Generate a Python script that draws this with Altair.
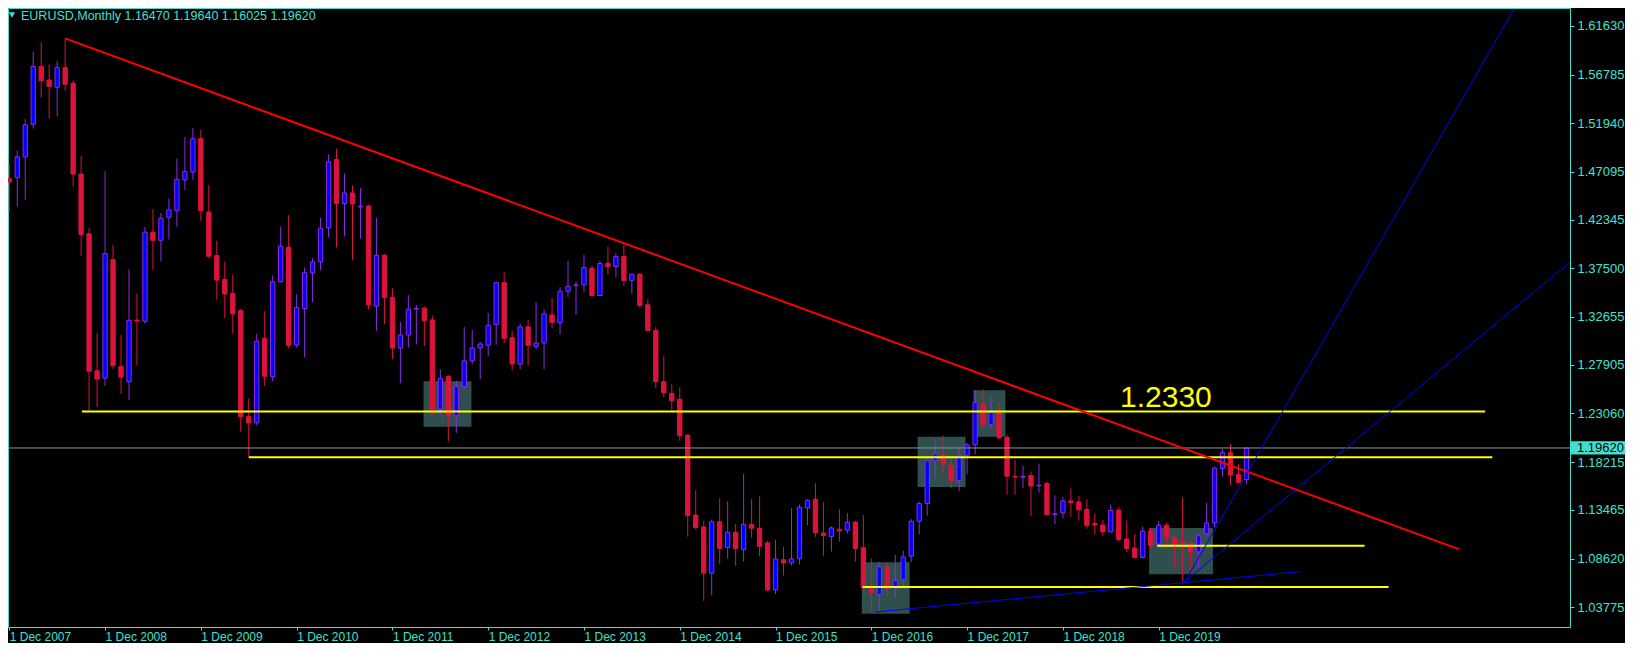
import altair as alt
import pandas as pd

# ---------------- data ----------------
symbol_title = "EURUSD,Monthly  1.16470 1.19640 1.16025 1.19620"

# monthly candles, month 0 = Dec 2007 ... month 155 = Nov 2020
opens = [1.4642, 1.4652, 1.4859, 1.5184, 1.5759, 1.5624, 1.5552, 1.5749, 1.5592, 1.4688, 1.4093, 1.2730,
         1.2657, 1.3837, 1.2772, 1.2622, 1.3235, 1.3223, 1.4110, 1.4029, 1.4258, 1.4323, 1.4630, 1.4708,
         1.5040, 1.4310, 1.3877, 1.3639, 1.3500, 1.3329, 1.2274, 1.2212, 1.3054, 1.2670, 1.3616, 1.3961,
         1.2986, 1.3350, 1.3705, 1.3814, 1.4153, 1.4833, 1.4395, 1.4500, 1.4360, 1.4369, 1.3374, 1.3880,
         1.3462, 1.2956, 1.3087, 1.3344, 1.3354, 1.3236, 1.2349, 1.2674, 1.2283, 1.2572, 1.2829, 1.2957,
         1.2984, 1.3190, 1.3607, 1.3059, 1.2797, 1.3168, 1.2974, 1.3007, 1.3286, 1.3207, 1.3522, 1.3581,
         1.3585, 1.3752, 1.3479, 1.3801, 1.3768, 1.3867, 1.3630, 1.3692, 1.3387, 1.3131, 1.2622, 1.2506,
         1.2447, 1.2090, 1.1295, 1.1176, 1.0716, 1.1228, 1.0972, 1.1124, 1.0952, 1.1202, 1.1163, 1.1018,
         1.0549, 1.0850, 1.0818, 1.0860, 1.1365, 1.1451, 1.1116, 1.1080, 1.1153, 1.1143, 1.1225, 1.0969,
         1.0568, 1.0503, 1.0779, 1.0568, 1.0651, 1.0885, 1.1233, 1.1410, 1.1834, 1.1893, 1.1788, 1.1637,
         1.1890, 1.1995, 1.2403, 1.2193, 1.2318, 1.2068, 1.1680, 1.1672, 1.1688, 1.1586, 1.1610, 1.1300,
         1.1317, 1.1435, 1.1425, 1.1350, 1.1212, 1.1196, 1.1127, 1.1343, 1.1057, 1.0966, 1.0871, 1.1137,
         1.1005, 1.1193, 1.1072, 1.1026, 1.1010, 1.0928, 1.1107, 1.1216, 1.1758, 1.1915, 1.1698, 1.16470]
highs = [1.4780, 1.4921, 1.5236, 1.5906, 1.6001, 1.5779, 1.5815, 1.6038, 1.5620, 1.4867, 1.4150, 1.3108,
         1.4717, 1.3985, 1.3088, 1.3738, 1.3498, 1.4162, 1.4338, 1.4300, 1.4443, 1.4842, 1.5059, 1.5145,
         1.5131, 1.4580, 1.4024, 1.3814, 1.3689, 1.3344, 1.2457, 1.3098, 1.3325, 1.3679, 1.4162, 1.4280,
         1.3492, 1.3758, 1.3854, 1.4251, 1.4882, 1.4941, 1.4694, 1.4576, 1.4549, 1.4383, 1.4251, 1.3890,
         1.3551, 1.3216, 1.3482, 1.3384, 1.3371, 1.3278, 1.2746, 1.2690, 1.2632, 1.3167, 1.3137, 1.3019,
         1.3305, 1.3612, 1.3709, 1.3130, 1.3200, 1.3236, 1.3413, 1.3341, 1.3453, 1.3561, 1.3824, 1.3620,
         1.3886, 1.3774, 1.3826, 1.3965, 1.3903, 1.4005, 1.3699, 1.3699, 1.3443, 1.3165, 1.2881, 1.2595,
         1.2566, 1.2099, 1.1543, 1.1235, 1.1250, 1.1462, 1.1432, 1.1205, 1.1705, 1.1452, 1.1481, 1.1035,
         1.1048, 1.0979, 1.1362, 1.1400, 1.1451, 1.1610, 1.1421, 1.1183, 1.1353, 1.1314, 1.1235, 1.1294,
         1.0861, 1.0829, 1.0824, 1.0900, 1.0939, 1.1256, 1.1429, 1.1846, 1.2056, 1.2083, 1.1843, 1.1957,
         1.2011, 1.2539, 1.2546, 1.2464, 1.2411, 1.2095, 1.1843, 1.1787, 1.1728, 1.1807, 1.1625, 1.1491,
         1.1475, 1.1560, 1.1484, 1.1449, 1.1311, 1.1245, 1.1400, 1.1375, 1.1240, 1.1105, 1.1180, 1.1169,
         1.1235, 1.1220, 1.1095, 1.1474, 1.1038, 1.1104, 1.1416, 1.1775, 1.1952, 1.2001, 1.1800, 1.19640]
lows = [1.4310, 1.4364, 1.4430, 1.5140, 1.5450, 1.5240, 1.5260, 1.5515, 1.4563, 1.3874, 1.2329, 1.2369,
        1.2580, 1.2750, 1.2500, 1.2441, 1.2789, 1.3199, 1.3735, 1.3820, 1.4037, 1.4165, 1.4530, 1.4630,
        1.4222, 1.3857, 1.3436, 1.3256, 1.3101, 1.2122, 1.1876, 1.2188, 1.2578, 1.2628, 1.3610, 1.2953,
        1.2960, 1.2864, 1.3413, 1.3729, 1.4057, 1.3958, 1.4067, 1.3830, 1.4047, 1.3344, 1.3127, 1.3196,
        1.2845, 1.2605, 1.2960, 1.2992, 1.2977, 1.2286, 1.2287, 1.2027, 1.2112, 1.2555, 1.2796, 1.2647,
        1.2875, 1.2990, 1.3003, 1.2736, 1.2745, 1.2782, 1.2943, 1.2746, 1.3157, 1.3091, 1.3465, 1.3288,
        1.3512, 1.3468, 1.3475, 1.3689, 1.3660, 1.3574, 1.3495, 1.3356, 1.3125, 1.2559, 1.2467, 1.2342,
        1.2034, 1.1080, 1.1152, 1.0440, 1.0496, 1.0804, 1.0860, 1.0791, 1.0833, 1.1068, 1.0883, 1.0535,
        1.0509, 1.0693, 1.0793, 1.0804, 1.1195, 1.1077, 1.0889, 1.0932, 1.1031, 1.1110, 1.0831, 1.0518,
        1.0331, 1.0340, 1.0479, 1.0479, 1.0585, 1.0826, 1.1101, 1.1288, 1.1662, 1.1695, 1.1563, 1.1531,
        1.1701, 1.1898, 1.2154, 1.2155, 1.2050, 1.1498, 1.1498, 1.1563, 1.1284, 1.1514, 1.1295, 1.1202,
        1.1262, 1.1277, 1.1240, 1.1158, 1.1100, 1.1087, 1.1120, 1.1028, 1.0927, 1.0865, 1.0865, 1.0959,
        1.0972, 1.0972, 1.0765, 1.0636, 1.0740, 1.0775, 1.1097, 1.1169, 1.1679, 1.1590, 1.1605, 1.16025]
closes = [1.4609, 1.4859, 1.5177, 1.5759, 1.5615, 1.5558, 1.5749, 1.5582, 1.4688, 1.4086, 1.2726, 1.2647,
          1.3897, 1.2782, 1.2667, 1.3233, 1.3225, 1.4110, 1.4028, 1.4248, 1.4331, 1.4635, 1.4714, 1.5040,
          1.4323, 1.3870, 1.3632, 1.3494, 1.3296, 1.2274, 1.2212, 1.3024, 1.2676, 1.3616, 1.3971, 1.2982,
          1.3360, 1.3705, 1.3814, 1.4149, 1.4810, 1.4395, 1.4500, 1.4390, 1.4368, 1.3387, 1.3880, 1.3459,
          1.2956, 1.3087, 1.3344, 1.3351, 1.3229, 1.2349, 1.2651, 1.2283, 1.2572, 1.2829, 1.2957, 1.2997,
          1.3184, 1.3607, 1.3053, 1.2797, 1.3168, 1.2984, 1.3007, 1.3296, 1.3211, 1.3522, 1.3571, 1.3585,
          1.3758, 1.3479, 1.3798, 1.3765, 1.3867, 1.3627, 1.3689, 1.3380, 1.3131, 1.2622, 1.2510, 1.2431,
          1.2084, 1.1291, 1.1169, 1.0716, 1.1228, 1.0962, 1.1124, 1.0962, 1.1202, 1.1163, 1.0982, 1.0549,
          1.0857, 1.0818, 1.0857, 1.1372, 1.1441, 1.1119, 1.1090, 1.1166, 1.1136, 1.1222, 1.0962, 1.0568,
          1.0519, 1.0779, 1.0562, 1.0641, 1.0878, 1.1233, 1.1410, 1.1834, 1.1903, 1.1801, 1.1637, 1.1890,
          1.1992, 1.2413, 1.2193, 1.2314, 1.2062, 1.1681, 1.1672, 1.1680, 1.1583, 1.1592, 1.1297, 1.1307,
          1.1435, 1.1419, 1.1346, 1.1189, 1.1196, 1.1127, 1.1340, 1.1051, 1.0962, 1.0871, 1.1134, 1.0992,
          1.1193, 1.1078, 1.0997, 1.1010, 1.0928, 1.1088, 1.1216, 1.1761, 1.1915, 1.1692, 1.1620, 1.19620]

x_tick_months = [0, 12, 24, 36, 48, 60, 72, 84, 96, 108, 120, 132, 144]
x_tick_labels = ["1 Dec 2007", "1 Dec 2008", "1 Dec 2009", "1 Dec 2010", "1 Dec 2011", "1 Dec 2012",
                 "1 Dec 2013", "1 Dec 2014", "1 Dec 2015", "1 Dec 2016", "1 Dec 2017", "1 Dec 2018",
                 "1 Dec 2019"]
price_ticks = [1.61630, 1.56785, 1.51940, 1.47095, 1.42345, 1.37500, 1.32655,
               1.27905, 1.23060, 1.18215, 1.13465, 1.08620, 1.03775]
current_price = 1.19620

# drawn objects (month index / price)
trend_x1, trend_y1, trend_x2, trend_y2 = [7.0], [1.6038], [181.6], [1.0955]
level_price = [1.2325, 1.1869, 1.0989, 1.0578]
level_start = [9.1, 30.0, 143.8, 106.9]
level_end = [184.9, 185.8, 169.8, 172.8]
box_x1 = [51.9, 106.8, 113.8, 120.8, 142.8]
box_x2 = [57.9, 112.8, 119.8, 124.8, 150.8]
box_top = [1.2625, 1.0824, 1.2073, 1.2536, 1.1166]
box_bottom = [1.2172, 1.0312, 1.1573, 1.2073, 1.0706]
fan_x1 = [108.5, 147.15, 147.0]
fan_y1 = [1.0330, 1.0614, 1.0615]
fan_x2 = [161.8, 188.5, 195.5]
fan_y2 = [1.0732, 1.6331, 1.3810]
level_text = ["1.2330"]
level_text_x = [144.9]
level_text_y = [1.2366]

# ---------------- styling ----------------
TQ = "#40E0D0"
BULL_BODY = "#0000FF"
BULL_LINE = "#8A2BE2"
BEAR = "#DC143C"
FONT = "Liberation Sans"
W, H = 1562, 619
PAD_R, PAD_B = 55, 16
X_DOM = [-0.16, 195.53]
Y_DOM = [1.01804, 1.63404]

n = len(opens)
candles = pd.DataFrame({"i": list(range(n)), "open": opens, "high": highs, "low": lows, "close": closes})
bull = candles["close"] >= candles["open"]
candles["line"] = [BULL_LINE if b else BEAR for b in bull]
candles["fill"] = [BULL_BODY if b else BEAR for b in bull]
candles["xl"] = candles["i"] - 0.27
candles["xr"] = candles["i"] + 0.27

label_expr = "[" + ",".join("'" + s + "'" for s in x_tick_labels) + "][round(datum.value / 12)]"

x_scale = alt.Scale(domain=X_DOM, nice=False, zero=False)
y_scale = alt.Scale(domain=Y_DOM, nice=False, zero=False)
x_axis = alt.Axis(values=x_tick_months, labelExpr=label_expr, orient="bottom", domain=False, grid=False,
                  tickSize=3, tickColor=TQ, labelColor=TQ, labelFont=FONT, labelFontSize=12,
                  labelAlign="left", labelBaseline="middle", labelPadding=6, labelOverlap=False,
                  labelFlush=False, title=None)
y_axis = alt.Axis(values=price_ticks, format=".5f", orient="right", domain=False, grid=False,
                  tickSize=4, tickColor=TQ, labelColor=TQ, labelFont=FONT, labelFontSize=13,
                  labelPadding=3, labelOverlap=False, labelFlush=False, labelBaseline="middle", title=None)

boxes_df = pd.DataFrame({"x1": box_x1, "x2": box_x2, "top": box_top, "bottom": box_bottom})
boxes = alt.Chart(boxes_df).mark_rect(color="#2F4F4F", opacity=1).encode(
    x=alt.X("x1:Q", scale=x_scale, axis=x_axis),
    x2="x2:Q",
    y=alt.Y("top:Q", scale=y_scale, axis=y_axis),
    y2="bottom:Q",
)

wicks = alt.Chart(candles).mark_rule(strokeWidth=1, clip=True).encode(
    x="i:Q", y="low:Q", y2="high:Q",
    color=alt.Color("line:N", scale=None),
)
bodies = alt.Chart(candles).mark_rect(strokeWidth=1, clip=True).encode(
    x="xl:Q", x2="xr:Q", y="open:Q", y2="close:Q",
    fill=alt.Fill("fill:N", scale=None), stroke=alt.Stroke("line:N", scale=None),
)

price_df = pd.DataFrame({"p": [current_price], "top": [current_price + 0.0066],
                         "bot": [current_price - 0.0066], "lab": [f"{current_price:.5f}"]})
gray = alt.Chart(price_df).mark_rule(color="#8E969C", strokeWidth=1).encode(y="p:Q")

levels_df = pd.DataFrame({"p": level_price, "a": level_start, "b": level_end})
levels = alt.Chart(levels_df).mark_rule(color="#FFFF00", strokeWidth=2).encode(
    x="a:Q", x2="b:Q", y="p:Q")

trend_df = pd.DataFrame({"x1": trend_x1, "y1": trend_y1, "x2": trend_x2, "y2": trend_y2})
trend = alt.Chart(trend_df).mark_rule(color="#FF0000", strokeWidth=2).encode(
    x="x1:Q", y="y1:Q", x2="x2:Q", y2="y2:Q")

fan_df = pd.DataFrame({"x1": fan_x1, "y1": fan_y1, "x2": fan_x2, "y2": fan_y2})
fan = alt.Chart(fan_df).mark_rule(color="#0000FF", strokeWidth=1, clip=True).encode(
    x="x1:Q", y="y1:Q", x2="x2:Q", y2="y2:Q")

ltext_df = pd.DataFrame({"t": level_text, "x": level_text_x, "y": level_text_y})
ltext = alt.Chart(ltext_df).mark_text(color="#FFFF00", font=FONT, fontSize=30, align="center",
                                      baseline="alphabetic").encode(
    x="x:Q", y="y:Q", text="t:N")

title_df = pd.DataFrame({"t": [symbol_title]})
title = alt.Chart(title_df).mark_text(color=TQ, font=FONT, fontSize=12.5, align="left",
                                      baseline="middle").encode(
    x=alt.value(13), y=alt.value(8), text="t:N")
tri = alt.Chart(title_df).mark_point(shape="triangle-down", filled=True, size=40, color=TQ,
                                     opacity=1).encode(x=alt.value(4), y=alt.value(7))

pbox = alt.Chart(price_df).mark_rect(color=TQ, clip=False).encode(
    x=alt.value(W + 1), x2=alt.value(W + PAD_R), y="top:Q", y2="bot:Q")
ptext = alt.Chart(price_df).mark_text(color="black", font=FONT, fontSize=13, align="left",
                                      baseline="middle", clip=False).encode(
    x=alt.value(W + 7), y="p:Q", text="lab:N")

chart = alt.layer(boxes, wicks, bodies, gray, levels, trend, fan, ltext, title, tri, pbox, ptext).properties(
    width=W, height=H, background="black",
    padding={"left": 0, "top": 0, "right": PAD_R, "bottom": PAD_B},
    autosize=alt.AutoSizeParams(type="none"),
).configure_view(stroke=TQ, strokeWidth=1)

chart.save("out.html", embed_options={"renderer": "svg", "actions": False})
